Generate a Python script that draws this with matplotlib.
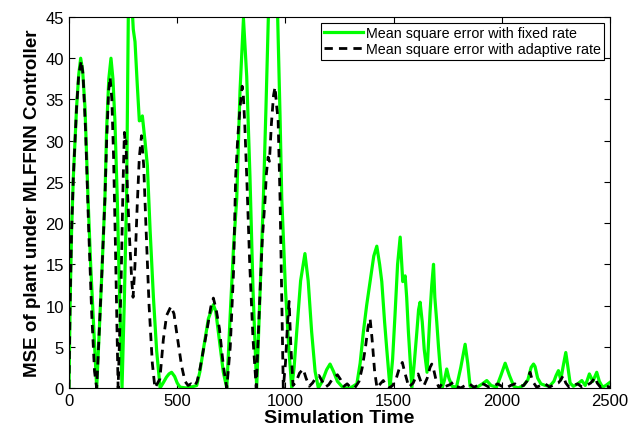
import matplotlib
matplotlib.use('Agg')
import matplotlib.pyplot as plt

# Simulation time / MSE values
fixed_t = [0, 5, 12, 20, 35, 45, 54, 63, 74, 88, 100, 115, 128,
           140, 152, 166, 174, 184, 194, 203, 212, 223, 235, 245,
           256, 266, 274, 285, 292, 297, 305, 315, 325, 332, 339, 351, 362, 375, 390, 405, 421,
           435, 450, 462, 474, 488, 500, 513, 540, 565, 590,
           605, 621, 644, 667, 678, 690, 713, 729,
           745, 760, 775, 790, 806, 821, 836, 850, 867,
           883, 898, 910, 921, 942, 964, 975, 983, 1000, 1015, 1029,
           1040, 1052, 1070, 1090, 1105, 1121, 1137, 1152,
           1170, 1190, 1206, 1222, 1240, 1260, 1275, 1300, 1330,
           1345, 1360, 1375, 1391, 1408, 1422, 1435, 1445, 1458, 1468, 1483,
           1495, 1506, 1518, 1530, 1536, 1542, 1553, 1560, 1568, 1584,
           1595, 1607, 1615, 1622, 1632, 1641, 1654, 1668, 1676, 1684, 1690, 1699, 1707, 1714, 1724,
           1735, 1745, 1755, 1770, 1790, 1810, 1830, 1842, 1853, 1880, 1910, 1930, 1950, 1975,
           1995, 2015, 2035, 2055, 2075, 2100, 2120, 2135, 2146, 2153, 2165, 2180, 2200, 2220,
           2240, 2250, 2261, 2272, 2282, 2295, 2305, 2315, 2330, 2350, 2369, 2385, 2395, 2404,
           2420, 2438, 2450, 2465, 2480, 2500]
fixed_mse = [0, 10, 19, 25.5, 34, 38, 40, 38.5, 34, 23, 15, 7, 0,
             7, 14, 23, 31.5, 37.5, 40, 37.5, 32.5, 23, 10, 0,
             11, 23, 45, 50, 46, 43.5, 42, 37, 32.4, 32.5, 33, 30, 27, 19, 11, 4.5, 0,
             0.6, 1.3, 1.7, 1.9, 1.4, 0.6, 0.1, 0, 0.1, 0.3,
             2, 4.7, 8.4, 10.1, 9.3, 6.8, 1.9, 0,
             9, 17, 23, 36, 44.8, 37.8, 25.7, 12, 0,
             12, 23, 34, 45, 55, 45, 33, 23, 12, 5, 0,
             2.5, 6.8, 13, 16.3, 13, 6.8, 2, 0,
             0.8, 2.2, 2.9, 2, 0.8, 0.2, 0, 0, 0.5,
             3, 6.8, 10, 12.9, 16, 17.2, 15, 12.9, 8, 4.7, 0,
             3.5, 8.8, 15, 18.3, 15.5, 12.9, 13.6, 11, 6.8, 0,
             3, 6.8, 9.5, 10.4, 8, 4.7, 1.9, 9.2, 12.5, 15, 11, 8, 5, 2.7, 0,
             1, 2.3, 1.2, 0.2, 0.1, 2.5, 5.3, 3, 0.2, 0, 0.5, 0.9, 0.3, 0.1,
             1.5, 3.0, 1.5, 0.2, 0, 0.3, 1, 2.5, 2.9, 2.6, 1.2, 0.5, 0.3, 0.2,
             0.8, 1.5, 2.1, 1, 2.5, 4.3, 2.5, 0.6, 0.2, 0.5, 0.9, 0.3, 1, 1.7,
             0.8, 1.9, 0.8, 0.1, 0.3, 0.7]

adapt_t = [0, 5, 12, 20, 35, 45, 57, 65, 77, 90, 105, 118, 128,
           140, 152, 166, 174, 183, 190, 198, 206, 214, 221, 227,
           240, 250, 256, 260, 263, 270, 280, 290, 296, 305, 315, 325, 335, 345, 355, 370, 385, 397,
           420, 436, 451, 471, 485, 497, 520, 536, 550, 564, 580, 592, 605, 636, 655, 667, 680, 695, 713, 729,
           745, 760, 770, 780, 790, 800, 805, 812, 822, 835, 850, 865,
           880, 893, 906, 912, 920, 926, 935, 945, 952, 960, 966, 975, 982, 990,
           1000, 1010, 1017, 1025, 1035, 1050, 1065, 1082, 1095, 1110, 1125, 1140, 1155, 1170,
           1185, 1200, 1220, 1240, 1255, 1270, 1285, 1300, 1320, 1340, 1355, 1370, 1382, 1391,
           1400, 1412, 1423,
           1438, 1452, 1465, 1480, 1495, 1510, 1525, 1540, 1550, 1570, 1590, 1605, 1613, 1625,
           1640, 1655, 1668, 1676, 1685, 1697, 1710,
           1725, 1740, 1760, 1775, 1790, 1810, 1830, 1850, 1870, 1890, 1905, 1920, 1940, 1960,
           1980, 2000, 2020, 2040, 2060, 2080, 2100, 2115, 2130, 2142, 2160, 2180, 2200, 2220,
           2240, 2260, 2270, 2283, 2295, 2310, 2330, 2350, 2370, 2390, 2410, 2420, 2430, 2440,
           2455, 2470, 2485, 2500]
adapt_mse = [0, 10, 19, 25.5, 34, 38, 39.7, 38, 31, 20, 9, 2, 0,
             7, 14, 23, 30, 36, 37.7, 35, 28, 18, 8, 0,
             12, 25, 31, 29.5, 30, 24, 18, 13, 11, 15, 22, 28, 30.6, 27, 20, 10, 3, 0,
             1.1, 5.9, 8.8, 9.9, 9, 6.8, 2.7, 0.8, 0.3, 0.5, 0.2, 0.8, 2.3, 6.8, 9.8, 10.9, 9.5, 7.2, 2.7, 0,
             5, 14, 25.7, 30.5, 34, 36.6, 35.7, 32, 25, 15, 6, 0,
             10, 18, 22.9, 26, 28, 27.5, 32, 35.5, 36.5, 34, 32.6, 23, 12, 0,
             3, 8, 10.5, 5, 0.3, 0.8, 1.8, 2.3, 1.2, 0.2, 0.6, 1.2, 1.5, 0.8,
             0.1, 0.4, 1.2, 1.6, 1, 0.2, 0.5, 0.1, 0, 0.8, 2.5, 5, 7.5, 8.4,
             6, 2, 0,
             0.5, 0.9, 0.3, 0, 0.3, 1, 2.3, 3.1, 2, 0.1, 0.6, 1.5, 1.7, 0.8,
             0.3, 1.2, 2.5, 2.9, 2.2, 0.8, 0,
             0.6, 0.2, 0.4, 0.7, 0.2, 0, 0.3, 0.5, 0.1, 0.3, 0.6, 0.4, 0.1, 0.2,
             0.5, 0.2, 0, 0.3, 0.5, 0.2, 0.3, 0.8, 1.9, 0.8, 0.1, 0.3, 0.5, 0.1,
             0.4, 0.6, 0.9, 1.5, 0.6, 0.1, 0.3, 0.5, 0.1, 0.3, 0.6, 0.9, 1.3, 0.6,
             0.1, 0.3, 0.2, 0.1]

x_ticks = [0, 500, 1000, 1500, 2000, 2500]
y_ticks = [0, 5, 10, 15, 20, 25, 30, 35, 40, 45]

plt.rcParams['font.family'] = ['Liberation Sans', 'DejaVu Sans']

fig = plt.figure(figsize=(6.3, 4.39), dpi=100)
ax = fig.add_axes([0.1095, 0.114, 0.859, 0.845])

ax.plot(fixed_t, fixed_mse, color='#00ff00', lw=2.3,
        label='Mean square error with fixed rate')
ax.plot(adapt_t, adapt_mse, color='black', lw=2.0, dashes=(3, 2.2),
        label='Mean square error with adaptive rate')

ax.set_xlim(0, 2500)
ax.set_ylim(0, 45)
ax.set_xticks(x_ticks)
ax.set_yticks(y_ticks)
ax.tick_params(direction='in', top=True, right=True, length=4, width=0.8,
               labelsize=12)
for s in ax.spines.values():
    s.set_linewidth(0.8)

ax.set_xlabel('Simulation Time', fontsize=14, fontweight='bold', labelpad=1)
ax.set_ylabel('MSE of plant under MLFFNN Controller', fontsize=13.5,
              fontweight='bold', labelpad=3)

leg = ax.legend(loc='upper right', fontsize=10.3, fancybox=False,
                framealpha=1, edgecolor='black', borderpad=0.25,
                labelspacing=0.15, handlelength=2.7, handletextpad=0.2,
                borderaxespad=0.4)
leg.get_frame().set_linewidth(0.8)

fig.savefig('out.png', dpi=100)
